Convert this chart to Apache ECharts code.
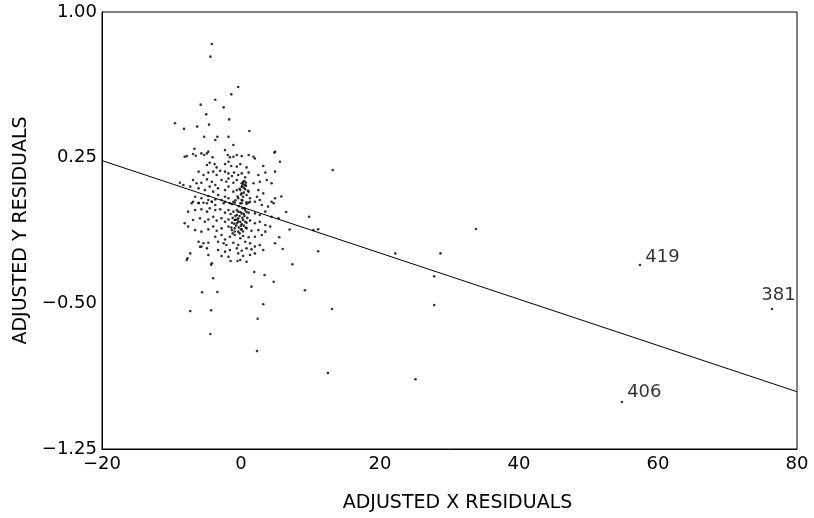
<!DOCTYPE html>
<html>
<head>
<meta charset="utf-8">
<script src="https://cdn.jsdelivr.net/npm/echarts@6/dist/echarts.min.js"></script>
<style>
html,body{margin:0;padding:0;background:#fff;}
#chart{width:814px;height:518px;}
</style>
</head>
<body>
<div id="chart"></div>
<script>
// ---- data (adjusted X residual, adjusted Y residual) ----
const xTicks = [-20, 0, 20, 40, 60, 80];
const yTicks = [-1.25, -0.50, 0.25, 1.00];

const upperTail = [[-4.2,0.835],[-4.4,0.77],[-0.4,0.614],[-1.4,0.576],[-3.7,0.548],[-5.8,0.523],[-2.5,0.509],[-5.0,0.473],[-1.7,0.447],[-9.5,0.427],[-8.2,0.398],[-6.3,0.41],[-4.6,0.42],[1.2,0.387],[-5.3,0.358],[-3.4,0.358],[-1.8,0.358],[-3.7,0.341],[-6.7,0.296],[4.9,0.28],[5.6,0.229],[-8.1,0.255]];

const upperCloud = [[-1.1,0.315],[-7.8,0.258],[-6.9,0.269],[-6.5,0.260],[-5.7,0.272],[-5.3,0.264],[-4.9,0.272],[-4.7,0.281],[-4.1,0.252],[-2.3,0.289],[-1.9,0.264],[-1.6,0.252],[-1.1,0.255],[-0.6,0.264],[0.1,0.258],[1.1,0.264],[1.8,0.255],[2.0,0.246],[4.8,0.276],
[-4.9,0.212],[-4.5,0.224],[-3.8,0.217],[-3.5,0.200],[-2.3,0.217],[-1.8,0.229],[-1.4,0.207],[-0.6,0.204],[-0.1,0.217],[0.8,0.200],[3.2,0.207],[3.5,0.173],[4.9,0.178],
[-6.1,0.178],[-5.4,0.161],[-4.7,0.173],[-4.0,0.178],[-3.5,0.161],[-3.0,0.183],[-2.3,0.178],[-1.8,0.169],[-1.3,0.155],[-1.0,0.173],[-0.4,0.161],[0.1,0.169],[0.6,0.149],[1.1,0.173],[2.5,0.161],[3.7,0.135],
[-6.9,0.135],[-6.4,0.118],[-5.7,0.121],[-4.9,0.138],[-4.2,0.126],[-3.7,0.109],[-2.8,0.135],[-2.1,0.126],[-1.8,0.143],[-1.1,0.121],[-0.6,0.135],[0.1,0.118],[0.3,0.126],[0.6,0.109],[0.2,0.104],[0.7,0.121],[1.8,0.118],[2.7,0.126],[4.4,0.118],
[-8.8,0.121],[-8.3,0.109],[-7.3,0.101],[-6.1,0.092],[-5.2,0.083],[-4.5,0.101],[-4.0,0.075],[-3.3,0.092],[-2.3,0.083],[-1.8,0.101],[-1.1,0.075],[-0.6,0.083],[-0.1,0.083],[0.1,0.066],[0.6,0.087],[1.1,0.075],[2.5,0.083],[3.2,0.066],[4.9,0.041],
[-6.6,0.049],[-5.7,0.041],[-4.7,0.053],[-3.7,0.035],[-3.3,0.058],[-2.8,0.032],[-2.3,0.049],[-1.8,0.041],[-1.1,0.023],[-0.4,0.041],[0.1,0.032],[0.3,0.049],[0.8,0.058],[1.3,0.041],[2.3,0.049],[2.7,0.032],[4.4,0.023],
[-7.1,0.015],[-6.1,0.018],[-4.9,0.015],[-4.2,0.023],[-2.5,0.015],[-1.3,0.011],[-0.1,0.015],[1.1,0.018],[2.0,0.023],
[0.3,0.115],[0.5,0.13],[0.1,0.10],[0.4,0.095],[0.7,0.105],[-0.2,0.09],[0.0,0.06],[0.4,0.07],[-0.5,0.05],[0.2,0.03],[0.8,0.02],[-0.3,0.0],[0.5,-0.01],[-0.8,0.03],[1.0,0.08]];

const lowerCloud = [[-6.9,0.023],[-6.1,0.015],[-5.4,0.018],[-4.7,0.032],[-4.2,0.023],[-3.7,0.006],[-2.3,0.023],[-1.6,0.015],[-0.9,0.018],[0.1,0.015],[0.8,0.011],[1.3,0.023],[3.0,0.006],[3.9,-0.002],[4.7,0.015],
[-7.6,-0.028],[-6.6,-0.020],[-5.7,-0.016],[-4.9,-0.028],[-4.5,-0.011],[-3.7,-0.020],[-3.0,-0.016],[-2.3,-0.033],[-1.8,-0.020],[-1.1,-0.028],[-0.6,-0.045],[-0.4,-0.028],[0.1,-0.037],[0.6,-0.020],[1.1,-0.033],[2.0,-0.037],[2.7,-0.045],[3.5,-0.028],[4.4,-0.054],[5.4,-0.062],
[-8.1,-0.088],[-7.6,-0.105],[-6.9,-0.071],[-5.9,-0.062],[-5.2,-0.080],[-4.7,-0.068],[-4.0,-0.054],[-3.5,-0.074],[-2.8,-0.062],[-2.3,-0.080],[-1.8,-0.068],[-1.3,-0.085],[-0.9,-0.071],[-0.6,-0.088],[-0.4,-0.062],[-0.1,-0.080],[0.1,-0.092],[0.3,-0.071],[0.8,-0.085],[1.3,-0.074],[2.0,-0.088],[2.7,-0.080],[3.5,-0.097],[4.2,-0.105],
[-6.6,-0.123],[-5.7,-0.131],[-4.7,-0.119],[-4.0,-0.105],[-3.5,-0.126],[-2.8,-0.114],[-1.8,-0.105],[-1.3,-0.123],[-0.9,-0.114],[-0.4,-0.131],[0.1,-0.119],[0.8,-0.114],[1.5,-0.126],[2.5,-0.123],[3.5,-0.131],
[-3.7,-0.157],[-2.8,-0.148],[-2.3,-0.171],[-1.6,-0.157],[-0.9,-0.148],[-0.1,-0.165],[0.3,-0.153],[1.1,-0.160],[2.0,-0.157],[3.0,-0.148],
[-6.1,-0.183],[-5.4,-0.191],[-4.7,-0.188],[-3.3,-0.183],[-2.5,-0.191],[-2.1,-0.200],[-1.1,-0.188],[-0.4,-0.200],[0.6,-0.183],[1.3,-0.191],[2.0,-0.208],[2.7,-0.200],
[-5.7,-0.208],[-4.9,-0.217],[-3.3,-0.226],[-2.3,-0.234],[-1.6,-0.226],[-0.6,-0.217],[0.1,-0.229],[0.8,-0.217],[1.5,-0.222],[3.2,-0.226],[4.9,-0.191],
[-7.3,-0.243],[-4.7,-0.251],[-2.8,-0.256],[-1.8,-0.260],[-0.4,-0.243],[0.3,-0.256],[1.3,-0.251],[2.0,-0.243],
[-7.8,-0.277],[-4.2,-0.294],[-0.1,-0.277],[0.8,-0.286],
[-1.5,-0.04],[-1.2,-0.06],[-0.8,-0.05],[-0.5,-0.07],[-0.2,-0.05],[0.2,-0.06],[0.5,-0.05],[0.9,-0.06],[-1.0,-0.09],[-0.7,-0.10],[-0.3,-0.11],[0.0,-0.10],[0.4,-0.10],[0.7,-0.11],[-1.4,-0.11],[-0.9,-0.13],[-0.2,-0.14],[0.3,-0.13],[-0.6,-0.02],[0.2,-0.01],[-0.4,-0.08],[0.6,-0.08],[-1.2,-0.14],[0.0,-0.12],[-0.1,-0.03],[0.8,-0.03],[-0.8,-0.07],[0.4,-0.04]];

const lowerTail = [[-4.3,-0.301],[-1.5,-0.282],[-0.5,-0.282],[7.4,-0.299],[1.9,-0.339],[3.4,-0.354],[-4.0,-0.371],[4.7,-0.389],[1.5,-0.414],[-5.6,-0.443],[-3.4,-0.442],[9.2,-0.433],[3.2,-0.505],[-7.3,-0.540],[-4.3,-0.536],[13.1,-0.529],[2.4,-0.579],[-4.4,-0.658],[2.3,-0.746],[12.5,-0.859],[-7.7,-0.268],[-5.9,-0.209]];

const farPoints = [[13.2,0.186],[9.8,-0.054],[10.4,-0.123],[11.1,-0.119],[11.1,-0.232],[22.2,-0.243],[28.7,-0.243],[33.8,-0.117],[27.8,-0.361],[27.8,-0.509],[25.1,-0.891],[5.8,0.05],[6.5,-0.03],[7.0,-0.12],[5.5,-0.16],[6.0,-0.22]];

const outlierIds = ['419', '381', '406'];
const outlierX = [57.4, 76.4, 54.8];
const outlierY = [-0.303, -0.529, -1.008];

const fitX = [-20, 80];
const fitY = [0.235, -0.955];

// ---- chart ----
const fmtMinus = s => String(s).replace('-', '\u2212');
const font = 'DejaVu Sans';
const chart = echarts.init(document.getElementById('chart'), null, {renderer: 'canvas'});

const allPoints = [].concat(upperTail, upperCloud, lowerCloud, lowerTail, farPoints);

const outlierData = outlierIds.map((id, i) => ({name: id, value: [outlierX[i], outlierY[i]]}));
const labelOffsets = {'419': [2, -8], '381': [-14, -14], '406': [2, -10]};

chart.setOption({
  animation: false,
  backgroundColor: '#fff',
  grid: {left: 102, right: 17, top: 12, bottom: 69, show: true, borderColor: '#000', borderWidth: 1, backgroundColor: 'transparent'},
  xAxis: {
    type: 'value', min: xTicks[0], max: xTicks[xTicks.length - 1], interval: xTicks[1] - xTicks[0],
    axisLine: {show: true, onZero: false, lineStyle: {color: '#000', width: 1}},
    axisTick: {show: false}, splitLine: {show: false},
    axisLabel: {color: '#000', fontFamily: font, fontSize: 18, margin: 6, formatter: v => fmtMinus(v)},
    name: 'ADJUSTED X RESIDUALS', nameLocation: 'middle', nameGap: 45,
    nameTextStyle: {color: '#000', fontFamily: font, fontSize: 19, padding: [0, 0, 0, 16]}
  },
  yAxis: {
    type: 'value', min: yTicks[0], max: yTicks[yTicks.length - 1], interval: yTicks[1] - yTicks[0],
    axisLine: {show: true, onZero: false, lineStyle: {color: '#000', width: 1}},
    axisTick: {show: false}, splitLine: {show: false},
    axisLabel: {color: '#000', fontFamily: font, fontSize: 18, margin: 5, formatter: v => fmtMinus(v.toFixed(2))},
    name: 'ADJUSTED Y RESIDUALS', nameLocation: 'middle', nameGap: 70,
    nameTextStyle: {color: '#000', fontFamily: font, fontSize: 19}
  },
  series: [
    {
      type: 'line', data: fitX.map((x, i) => [x, fitY[i]]), symbol: 'none',
      lineStyle: {color: '#000', width: 1}, silent: true
    },
    {
      type: 'scatter', data: allPoints, symbol: 'circle', symbolSize: 2.6,
      itemStyle: {color: '#000'}
    },
    {
      type: 'scatter', data: outlierData, symbol: 'circle', symbolSize: 2.6,
      itemStyle: {color: '#000'},
      label: {
        show: true, position: 'right', distance: 2, color: '#000', fontFamily: font, fontSize: 18,
        formatter: p => p.name
      },
      labelLayout: p => {
        const id = outlierIds[p.dataIndex];
        const o = labelOffsets[id];
        return {dx: o[0], dy: o[1]};
      }
    }
  ]
});
</script>
</body>
</html>
